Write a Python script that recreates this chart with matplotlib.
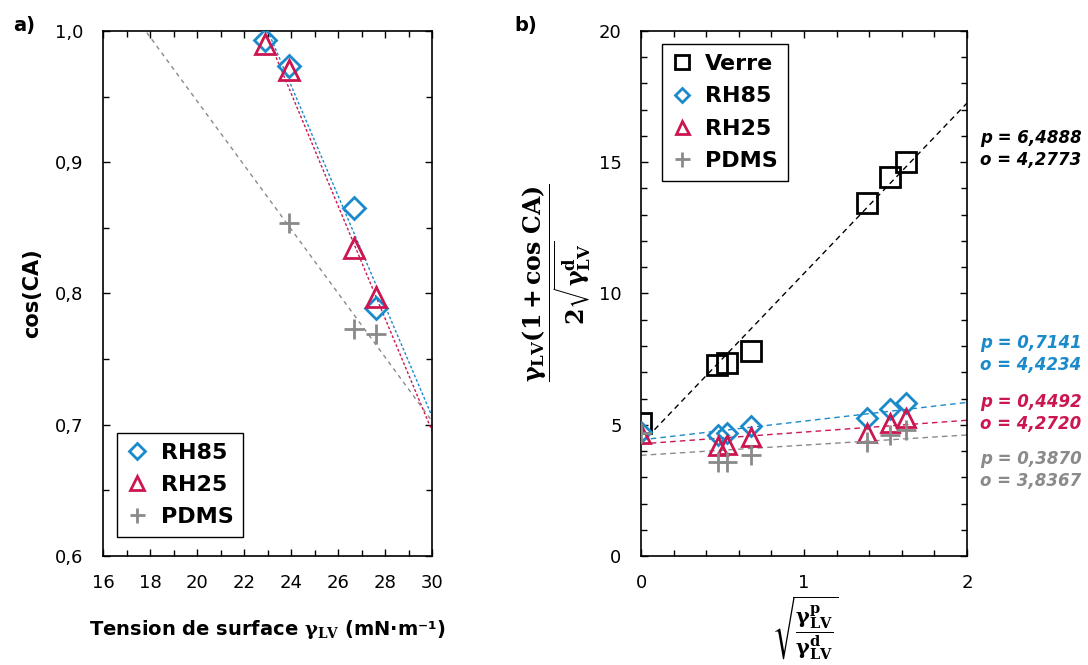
import numpy as np
import matplotlib
matplotlib.use('Agg')
import matplotlib.pyplot as plt
from matplotlib.ticker import MultipleLocator, FuncFormatter

plt.rcParams['font.family'] = 'DejaVu Sans'
plt.rcParams['mathtext.fontset'] = 'dejavuserif'

# colours
c_blue = '#1a8acb'
c_red = '#cc1650'
c_gray = '#8a8a8a'
c_black = 'black'

# ---- panel a) data : cos(CA) vs surface tension ----
a_x_rh85 = [22.9, 23.9, 26.7, 27.6]
a_y_rh85 = [0.993, 0.973, 0.865, 0.789]
a_x_rh25 = [22.9, 23.9, 26.7, 27.6]
a_y_rh25 = [0.990, 0.970, 0.835, 0.797]
a_x_pdms = [23.9, 26.7, 27.6]
a_y_pdms = [0.854, 0.773, 0.769]

# ---- panel b) data : Owens-Wendt plot ----
b_x_verre = [0.0, 0.465, 0.53, 0.675, 1.389, 1.528, 1.623]
b_y_verre = [5.08, 7.26, 7.34, 7.82, 13.44, 14.44, 15.0]
b_x_rh85 = [0.0, 0.47, 0.525, 0.675, 1.385, 1.528, 1.623]
b_y_rh85 = [4.71, 4.60, 4.68, 4.95, 5.24, 5.60, 5.84]
b_x_rh25 = [0.0, 0.47, 0.53, 0.675, 1.385, 1.528, 1.623]
b_y_rh25 = [4.65, 4.19, 4.24, 4.52, 4.68, 5.05, 5.24]
b_x_pdms = [0.0, 0.47, 0.53, 0.675, 1.385, 1.528, 1.623]
b_y_pdms = [4.68, 3.58, 3.58, 3.84, 4.35, 4.60, 4.80]

# fitted slopes (p) and intercepts (o) printed on panel b
fit_names = ['Verre', 'RH85', 'RH25', 'PDMS']
fit_p = [6.4888, 0.7141, 0.4492, 0.3870]
fit_o = [4.2773, 4.4234, 4.2720, 3.8367]
fit_colors = [c_black, c_blue, c_red, c_gray]
fit_label_y = [0.775, 0.385, 0.272, 0.164]

fig = plt.figure(figsize=(10.88, 6.65), dpi=100)
ax1 = fig.add_axes([0.0947, 0.1639, 0.3024, 0.7895])
ax2 = fig.add_axes([0.5892, 0.1639, 0.2996, 0.7895])

comma = FuncFormatter(lambda v, pos: ('%.1f' % v).replace('.', ','))

def style_axes(ax):
    for s in ax.spines.values():
        s.set_linewidth(1.2)
    ax.tick_params(which='both', direction='in', top=True, right=True,
                   labelsize=13, width=1.0)
    ax.tick_params(which='major', length=5)
    ax.tick_params(which='minor', length=4.5)

leg_kw = dict(fancybox=False, edgecolor='black', framealpha=1,
              prop={'weight': 'bold', 'size': 16}, labelspacing=0.55,
              handletextpad=0.6, borderpad=0.45, handlelength=0.9,
              borderaxespad=0, markerscale=0.72)

# ---------- panel a ----------
style_axes(ax1)
xx = np.linspace(16, 30, 50)
for xs, ys, col, dash in [(a_x_rh85, a_y_rh85, c_blue, (2, 1.5)),
                          (a_x_rh25, a_y_rh25, c_red, (2, 1.5)),
                          (a_x_pdms, a_y_pdms, c_gray, (3, 3))]:
    k, b = np.polyfit(xs, ys, 1)
    ax1.plot(xx, k * xx + b, color=col, lw=1.0, linestyle=(0, dash), zorder=2)

ax1.plot(a_x_rh85, a_y_rh85, 'D', ms=11, mfc='none', mec=c_blue, mew=2, ls='none', label='RH85', zorder=3)
ax1.plot(a_x_rh25, a_y_rh25, '^', ms=14, mfc='none', mec=c_red, mew=2, ls='none', label='RH25', zorder=3)
ax1.plot(a_x_pdms, a_y_pdms, '+', ms=15, mec=c_gray, mew=2, ls='none', label='PDMS', zorder=3)

ax1.set_xlim(16, 30)
ax1.set_ylim(0.6, 1.0)
ax1.xaxis.set_major_locator(MultipleLocator(2))
ax1.xaxis.set_minor_locator(MultipleLocator(1))
ax1.yaxis.set_major_locator(MultipleLocator(0.1))
ax1.yaxis.set_minor_locator(MultipleLocator(0.05))
ax1.yaxis.set_major_formatter(comma)
ax1.tick_params(axis='x', pad=13)
ax1.tick_params(axis='y', pad=14)
ax1.set_ylabel('cos(CA)', fontsize=15, fontweight='bold', labelpad=9)
ax1.set_xlabel(r'Tension de surface $\mathbf{\gamma_{LV}}$ (mN·m⁻¹)',
               fontsize=14, fontweight='bold', labelpad=19)
leg1 = ax1.legend(loc='lower left', bbox_to_anchor=(0.043, 0.036), **leg_kw)
leg1.get_frame().set_linewidth(1.0)

# ---------- panel b ----------
style_axes(ax2)
xl = np.linspace(0, 2, 20)
for p, o, col in zip(fit_p, fit_o, fit_colors):
    ax2.plot(xl, p * xl + o, color=col, lw=1.0, linestyle=(0, (4, 3)), zorder=2)

ax2.plot(b_x_verre, b_y_verre, 's', ms=14, mfc='none', mec=c_black, mew=2, ls='none', label='Verre', zorder=3)
ax2.plot(b_x_rh85, b_y_rh85, 'D', ms=10, mfc='none', mec=c_blue, mew=2, ls='none', label='RH85', zorder=3)
ax2.plot(b_x_rh25, b_y_rh25, '^', ms=13, mfc='none', mec=c_red, mew=2, ls='none', label='RH25', zorder=3)
ax2.plot(b_x_pdms, b_y_pdms, '+', ms=15, mec=c_gray, mew=2, ls='none', label='PDMS', zorder=3)

ax2.set_xlim(0, 2)
ax2.set_ylim(0, 20)
ax2.xaxis.set_major_locator(MultipleLocator(1))
ax2.xaxis.set_minor_locator(MultipleLocator(0.2))
ax2.yaxis.set_major_locator(MultipleLocator(5))
ax2.yaxis.set_minor_locator(MultipleLocator(1))
ax2.tick_params(axis='x', pad=13)
ax2.tick_params(axis='y', pad=14)
leg2 = ax2.legend(loc='upper left', bbox_to_anchor=(0.064, 0.975), **leg_kw)
leg2.get_frame().set_linewidth(1.0)

for p, o, col, yy in zip(fit_p, fit_o, fit_colors, fit_label_y):
    txt = ('p = %.4f\no = %.4f' % (p, o)).replace('.', ',')
    ax2.text(1.04, yy, txt, transform=ax2.transAxes, color=col, fontsize=12,
             fontweight='bold', style='italic', va='center', ha='left', linespacing=1.3)

fig.text(0.512, 0.575,
         r'$\dfrac{\mathbf{\gamma_{LV}(1+cos\ CA)}}{\mathbf{2\sqrt{\gamma^{d}_{LV}}}}$',
         rotation=90, fontsize=17, ha='center', va='center')
fig.text(0.74, 0.106,
         r'$\sqrt{\dfrac{\mathbf{\gamma^{p}_{LV}}}{\mathbf{\gamma^{d}_{LV}}}}$',
         fontsize=15, ha='center', va='top')

fig.text(0.012, 0.962, 'a)', fontsize=14, fontweight='bold', va='center')
fig.text(0.473, 0.962, 'b)', fontsize=14, fontweight='bold', va='center')

fig.savefig('out.png', dpi=100)
